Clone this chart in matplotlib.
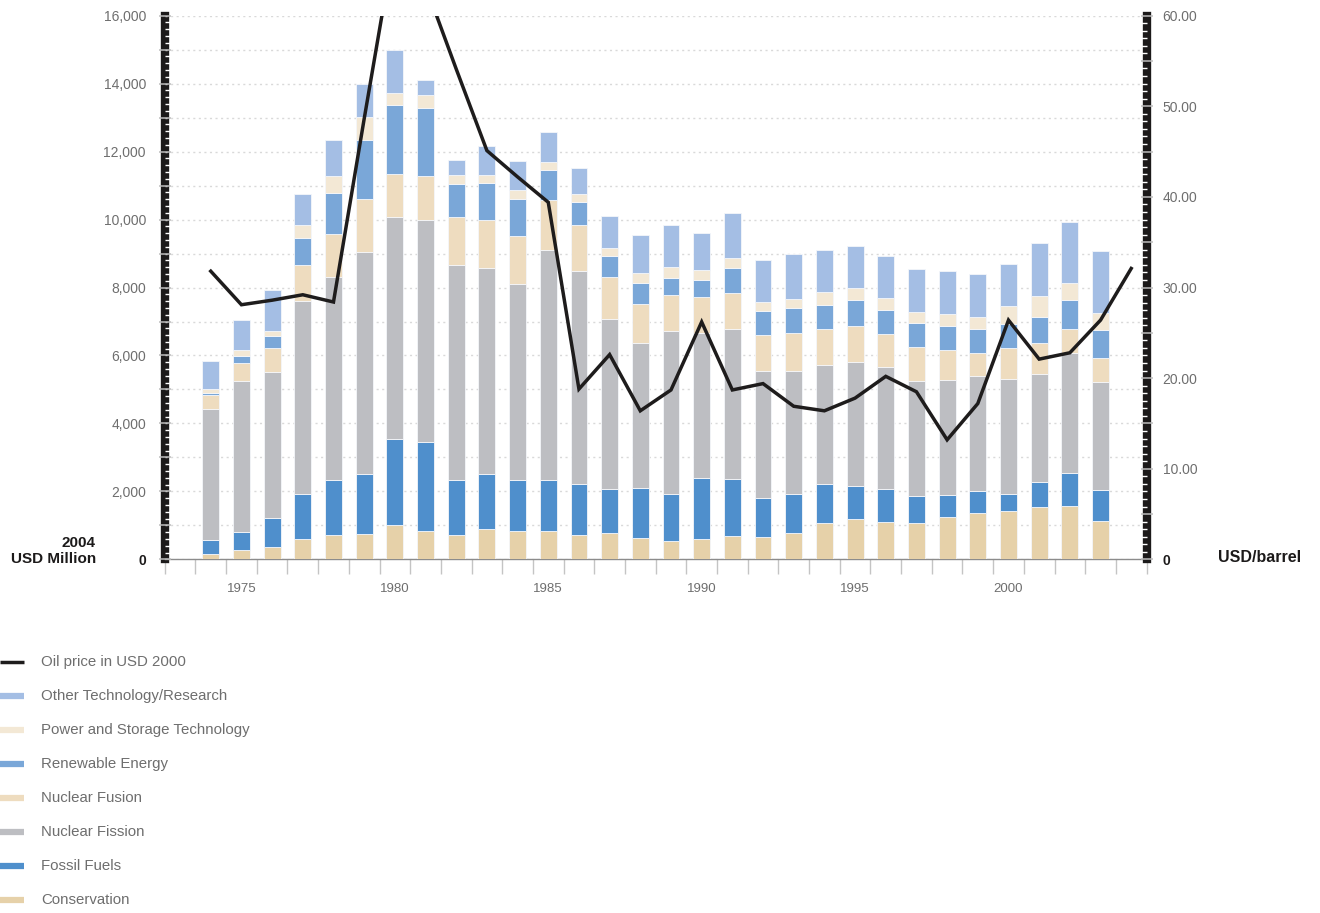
import numpy as np
import matplotlib
matplotlib.use("Agg")
import matplotlib.pyplot as plt
from matplotlib.lines import Line2D
from matplotlib.ticker import MultipleLocator

plt.rcParams['font.family'] = ['Liberation Sans', 'DejaVu Sans']

# --- data (2004 USD million) ---
years = list(range(1974, 2004))
conservation = [148, 265, 360, 603, 720, 751, 1005, 836, 716, 902, 833, 833, 716, 765, 618,
                549, 596, 704, 665, 782, 1075, 1183, 1095, 1065, 1257, 1365, 1434, 1555, 1577, 1127]
fossil_fuels = [412, 550, 857, 1312, 1608, 1757, 2540, 2614, 1617, 1608, 1491, 1491, 1490, 1313, 1480,
                1382, 1799, 1652, 1143, 1153, 1144, 977, 977, 802, 639, 639, 501, 721, 981, 924]
nuclear_fission = [3863, 4434, 4296, 5683, 5968, 6529, 6518, 6529, 6324, 6059, 5774, 6774, 6294, 4981, 4284,
                   4775, 4262, 4438, 3725, 3617, 3490, 3646, 3578, 3392, 3369, 3379, 3379, 3189, 3527, 3177]
nuclear_fusion = [424, 539, 699, 1069, 1270, 1556, 1270, 1301, 1421, 1411, 1431, 1490, 1324, 1255, 1138,
                  1078, 1075, 1055, 1065, 1124, 1075, 1076, 987, 978, 884, 688, 894, 890, 698, 710]
renewable = [53, 191, 349, 783, 1206, 1735, 2021, 2011, 981, 1089, 1079, 863, 686, 608, 607,
             510, 499, 714, 714, 724, 714, 762, 704, 713, 727, 717, 708, 789, 845, 800]
power_storage = [126, 180, 169, 391, 498, 677, 381, 370, 255, 235, 255, 255, 245, 254, 314,
                 304, 273, 313, 264, 264, 361, 342, 362, 342, 354, 353, 530, 597, 507, 507]
other_research = [815, 899, 1196, 900, 1079, 995, 1260, 434, 451, 872, 862, 863, 774, 922, 1098,
                  1245, 1085, 1329, 1231, 1329, 1232, 1242, 1232, 1242, 1247, 1258, 1248, 1566, 1780, 1825]

# oil price, USD 2000 per barrel
oil_years = list(range(1974, 2005))
oil_price = [31.8, 28.1, 28.6, 29.2, 28.4, 48.6, 68.3, 63.3, 54.1, 45.1, 42.2, 39.4, 18.8, 22.6, 16.4, 18.7,
             26.2, 18.7, 19.4, 16.9, 16.4, 17.8, 20.2, 18.5, 13.2, 17.2, 26.4, 22.1, 22.8, 26.4, 32.1]

series_names = ["Conservation", "Fossil Fuels", "Nuclear Fission", "Nuclear Fusion",
                "Renewable Energy", "Power and Storage Technology", "Other Technology/Research"]
series_values = [conservation, fossil_fuels, nuclear_fission, nuclear_fusion,
                 renewable, power_storage, other_research]
series_colors = ["#e6d1a9", "#4f8fcc", "#bdbec2", "#eedcbf", "#7aa7d8", "#f3e8d5", "#a4bee4"]

left_ticks = list(range(0, 16001, 1000))
left_labels = ["0" if v == 0 else (f"{v:,}" if v % 2000 == 0 else "") for v in left_ticks]
right_ticks = list(range(0, 61, 5))
right_labels = ["0" if v == 0 else (f"{v:.2f}" if v % 10 == 0 else "") for v in right_ticks]
year_labels = [1975, 1980, 1985, 1990, 1995, 2000]

GRAY = "#6e6e6e"

fig = plt.figure(figsize=(13.2, 9.13), dpi=100)
ax = fig.add_axes([0.1248, 0.3872, 0.7438, 0.5958])
ax2 = ax.twinx()

# stacked bars
bottom = np.zeros(len(years))
for name, vals, col in zip(series_names, series_values, series_colors):
    ax.bar(years, vals, bottom=bottom, width=0.55, color=col, edgecolor="#f4f6fa",
           linewidth=0.6, zorder=3.5)
    bottom += np.array(vals)

ax.set_xlim(1972.5, 2004.5)
ax.set_ylim(0, 16000)

# left axis as a black "ruler"
ax.yaxis.set_zorder(3)
ax.set_yticks(left_ticks, labels=left_labels)
ax.yaxis.set_minor_locator(MultipleLocator(200))
ax.tick_params(axis="y", which="major", direction="inout", length=9, width=1.1,
               color="#bdbdbd", pad=9, labelsize=10, labelcolor=GRAY)
ax.tick_params(axis="y", which="minor", direction="in", length=5, width=1.0, color="white")
ax.grid(axis="y", which="major", color="#d9d9d9", linestyle=(0, (1.5, 2.5)), linewidth=1.0)
ax.spines["left"].set_linewidth(6)
ax.spines["left"].set_color("#1c1a1a")
ax.spines["top"].set_visible(False)
ax.spines["right"].set_visible(False)
ax.spines["bottom"].set_color("#8c8c8c")
ax.spines["bottom"].set_linewidth(1.0)
zero_lbl = ax.get_yticklabels()[0]
zero_lbl.set_color("#1c1a1a")
zero_lbl.set_fontweight("bold")

# x axis: ticks between years, labels every 5 years
ax.set_xticks(np.arange(1972.5, 2005, 1.0), labels=[])
ax.set_xticks(year_labels, labels=[str(y) for y in year_labels], minor=True)
ax.tick_params(axis="x", which="major", direction="out", length=11, width=1.0, color="#c4c4c4")
ax.tick_params(axis="x", which="minor", length=0, pad=17, labelsize=9.5, labelcolor=GRAY)

# right axis: oil price
ax2.plot(oil_years, oil_price, color="#1e1c1c", linewidth=2.5, zorder=5,
         solid_joinstyle="miter")
ax2.set_ylim(0, 60)
ax2.yaxis.set_zorder(3)
ax2.set_yticks(right_ticks, labels=right_labels)
ax2.yaxis.set_minor_locator(MultipleLocator(5 / 6))
ax2.tick_params(axis="y", which="major", direction="inout", length=9, width=1.1,
                color="#bdbdbd", pad=7, labelsize=10, labelcolor=GRAY)
ax2.tick_params(axis="y", which="minor", direction="in", length=5, width=1.0, color="white")
ax2.spines["right"].set_linewidth(6)
ax2.spines["right"].set_color("#1c1a1a")
for s in ["left", "top", "bottom"]:
    ax2.spines[s].set_visible(False)
zero_lbl2 = ax2.get_yticklabels()[0]
zero_lbl2.set_color("#1c1a1a")
zero_lbl2.set_fontweight("bold")

# unit captions
fig.text(96 / 1320, 1 - 551 / 913, "2004\nUSD Million", ha="right", va="center",
         fontsize=11, fontweight="bold", color="#1c1a1a", linespacing=1.1)
fig.text(1218 / 1320, 1 - 558 / 913, "USD/barrel", ha="left", va="center",
         fontsize=11.5, fontweight="bold", color="#1c1a1a")

# legend drawn below the chart
legend_names = ["Oil price in USD 2000"] + series_names[::-1]
legend_colors = ["#1e1c1c"] + series_colors[::-1]
for i, (name, col) in enumerate(zip(legend_names, legend_colors)):
    yy = 1 - (662 + 34 * i) / 913
    lw = 2.5 if i == 0 else 4.5
    fig.add_artist(Line2D([0, 24 / 1320], [yy, yy], transform=fig.transFigure,
                          color=col, linewidth=lw, solid_capstyle="butt"))
    fig.text(41 / 1320, yy, name, ha="left", va="center", fontsize=10.8, color=GRAY)

fig.savefig("out.png", dpi=100)
